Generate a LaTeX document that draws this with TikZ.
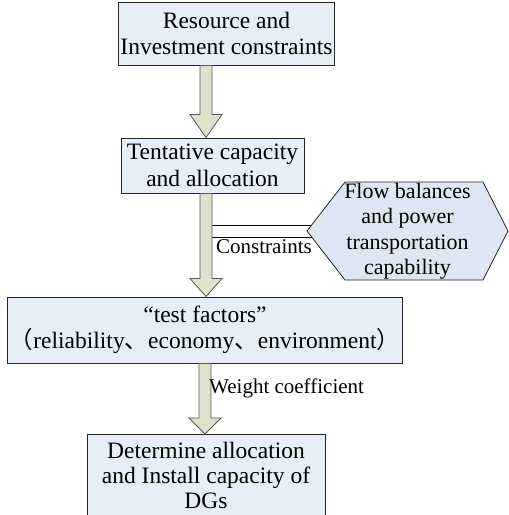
\documentclass[tikz,border=0pt]{standalone}
\usepackage{fontspec}
\setmainfont{Liberation Serif}
\newfontfamily\cjk{Noto Sans CJK SC}
\usetikzlibrary{calc}
\definecolor{boxblue}{RGB}{232,238,248}
\definecolor{hexblue}{RGB}{221,230,242}
\definecolor{arrowolive}{RGB}{221,226,203}
% big hollow arrow: from node, to node, x of the shaft, length of the head
\newcommand\blockarrow[4]{%
  \path[bigarrow] let \p1=(#3,0 |- #1.south), \p2=(#3,0 |- #2.north) in
    (\x1-6pt,\y1) -- (\x1+6pt,\y1) -- (\x1+6pt,\y2+#4) -- (\x1+16pt,\y2+#4)
    -- (\x1,\y2) -- (\x1-16pt,\y2+#4) -- (\x1-6pt,\y2+#4) -- cycle;}
\begin{document}
\begin{tikzpicture}[x=1pt, y=-1pt,
  stage/.style={rectangle, draw=black!85, line width=0.9pt, fill=boxblue,
    align=center, inner sep=2pt, font=\fontsize{23.5}{26.5}\selectfont},
  bigarrow/.style={draw=black!65, line width=0.8pt, fill=arrowolive},
  hexshape/.style={draw=black!85, line width=0.8pt, fill=hexblue},
  link/.style={draw=black, line width=0.8pt},
  lbl/.style={font=\fontsize{21}{24}\selectfont, inner sep=0pt}]
\useasboundingbox (0,0) rectangle (509,515);
\clip (0,0) rectangle (509,515);
% Stages
\node[stage, minimum width=213, minimum height=63] (res) at (226.5,33.5)
  {Resource and\\Investment constraints};
\node[stage, minimum width=183, minimum height=55] (ten) at (212.5,165.5)
  {Tentative capacity\\and allocation};
\node[stage, minimum width=390, minimum height=66] (test) at (205,330)
  {“test factors”\\{\cjk （}reliability{\cjk 、}economy{\cjk 、}environment{\cjk ）}};
\node[stage, minimum width=238, minimum height=82, anchor=north, inner sep=1pt,
  font=\fontsize{23.5}{25}\selectfont] (det) at (206,434)
  {Determine allocation\\and Install capacity of\\DGs};
% Hexagon with the constraints
\coordinate (hexW) at (307,231);
\coordinate (hexNW) at (345,182);
\coordinate (hexNE) at (483,182);
\coordinate (hexE) at (508,231);
\coordinate (hexSE) at (483,280);
\coordinate (hexSW) at (345,280);
\coordinate (e1) at ($(hexW)!0.12!(hexNW)$);
\coordinate (e2) at ($(hexW)!0.14!(hexSW)$);
% Links to the hexagon
\draw[link] (212,0 |- e1) -- (e1);
\draw[link] (212,0 |- e2) -- (e2);
\draw[hexshape] (hexW) -- (hexNW) -- (hexNE) -- (hexE) -- (hexSE) -- (hexSW) -- cycle;
\node[align=center, font=\fontsize{22}{25.5}\selectfont] (flow) at (407.5,231)
  {Flow balances\\and power\\transportation\\capability};
% Arrows between the stages
\blockarrow{res}{ten}{206}{23pt}
\blockarrow{ten}{test}{206}{18pt}
\blockarrow{test}{det}{205}{16pt}
% Labels
\node[lbl, anchor=west] (cons) at (216,247) {Constraints};
\node[lbl, anchor=west] (weight) at (209,388) {Weight coefficient};
\end{tikzpicture}
\end{document}
